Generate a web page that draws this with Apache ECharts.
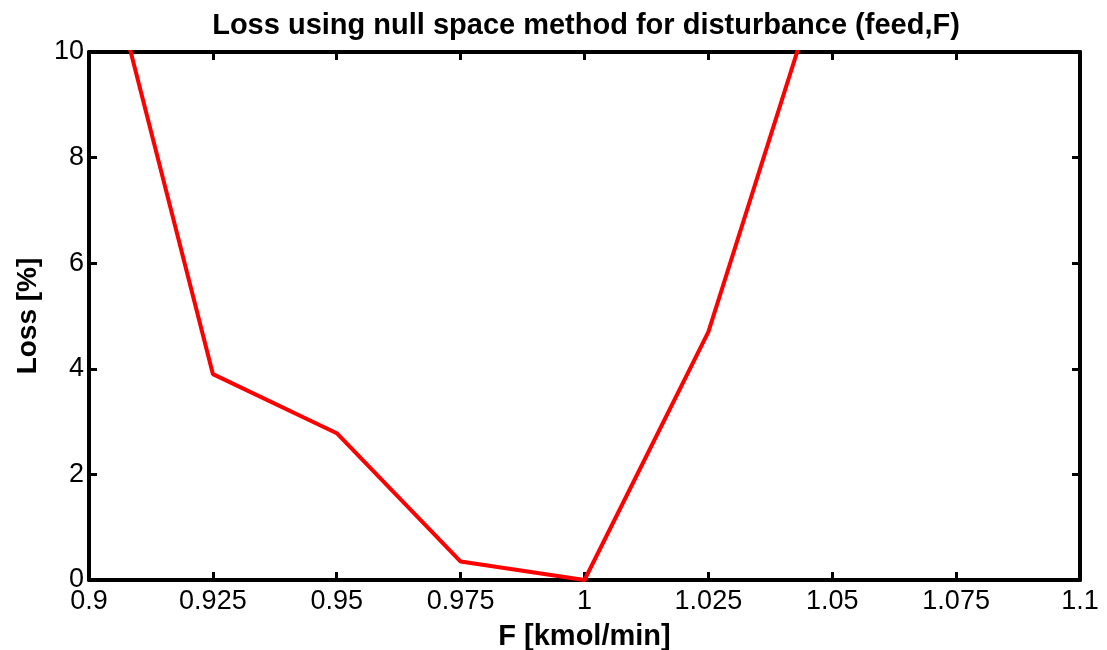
<!DOCTYPE html>
<html>
<head>
<meta charset="utf-8">
<script src="https://cdn.jsdelivr.net/npm/echarts@6/dist/echarts.min.js"></script>
<style>
  html, body { margin: 0; padding: 0; background: #fff; }
  #chart { width: 1107px; height: 650px; }
</style>
</head>
<body>
<div id="chart"></div>
<script>
// feed disturbance values and loss (%), points past the top are clipped
const feed = [0.9, 0.925, 0.95, 0.975, 1.0, 1.025, 1.05];
const loss = [13.1, 3.9, 2.78, 0.35, 0, 4.7, 12.1];

const xTicks = [0.9, 0.925, 0.95, 0.975, 1, 1.025, 1.05, 1.075, 1.1];
const yTicks = [0, 2, 4, 6, 8, 10];

const font = 'Liberation Sans, Arial, sans-serif';

const axisLine = { show: true, onZero: false, lineStyle: { color: '#000', width: 4 } };
const axisTick = { show: true, inside: true, length: 8, lineStyle: { color: '#000', width: 3 } };

function fmt(v) {
  return String(parseFloat(v.toFixed(3)));
}

let option = {
  animation: false,
  backgroundColor: '#fff',
  title: {
    text: 'Loss using null space method for disturbance (feed,F)',
    left: 581,
    textAlign: 'center',
    top: 6,
    textStyle: { fontFamily: font, fontSize: 29, fontWeight: 'bold', color: '#000' }
  },
  grid: { left: 89, right: 27, top: 52, bottom: 70, outerBoundsMode: 'none' },
  xAxis: [
    {
      type: 'value',
      position: 'bottom',
      min: xTicks[0],
      max: xTicks[xTicks.length - 1],
      interval: 0.025,
      name: 'F [kmol/min]',
      nameLocation: 'middle',
      nameGap: 42,
      nameTextStyle: { fontFamily: font, fontSize: 29, fontWeight: 'bold', color: '#000' },
      axisLine: axisLine,
      axisTick: axisTick,
      splitLine: { show: false },
      axisLabel: {
        fontFamily: font, fontSize: 27, color: '#000', margin: 8,
        formatter: fmt
      }
    },
    {
      type: 'value',
      position: 'top',
      min: xTicks[0],
      max: xTicks[xTicks.length - 1],
      interval: 0.025,
      axisLine: axisLine,
      axisTick: axisTick,
      splitLine: { show: false },
      axisLabel: { show: false }
    }
  ],
  yAxis: [
    {
      type: 'value',
      position: 'left',
      min: yTicks[0],
      max: yTicks[yTicks.length - 1],
      interval: 2,
      name: 'Loss [%]',
      nameLocation: 'middle',
      nameGap: 47,
      nameTextStyle: { fontFamily: font, fontSize: 28, fontWeight: 'bold', color: '#000' },
      axisLine: axisLine,
      axisTick: axisTick,
      splitLine: { show: false },
      axisLabel: { fontFamily: font, fontSize: 27, color: '#000', margin: 5 }
    },
    {
      type: 'value',
      position: 'right',
      min: yTicks[0],
      max: yTicks[yTicks.length - 1],
      interval: 2,
      axisLine: axisLine,
      axisTick: axisTick,
      splitLine: { show: false },
      axisLabel: { show: false }
    }
  ],
  series: [
    {
      type: 'line',
      data: feed.map((f, i) => [f, loss[i]]),
      showSymbol: false,
      clip: true,
      lineStyle: { color: '#ff0000', width: 4 },
      z: 1
    }
  ]
};

var myChart = echarts.init(document.getElementById('chart'));
myChart.setOption(option);
</script>
</body>
</html>
